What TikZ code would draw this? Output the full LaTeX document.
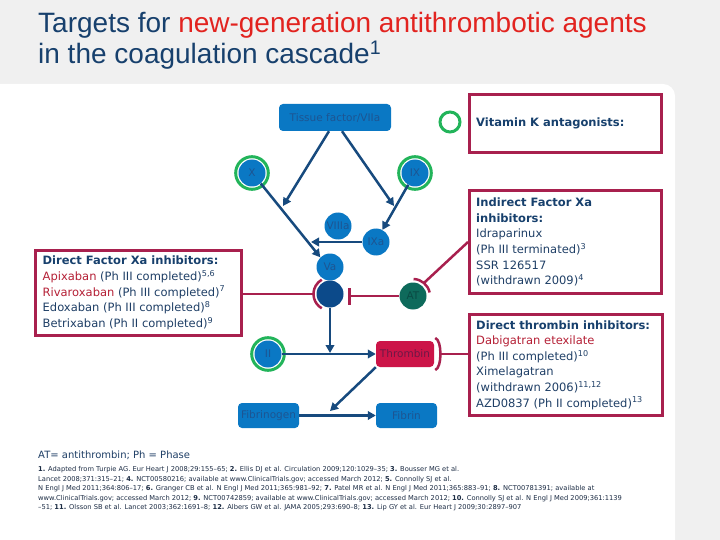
\documentclass[tikz,border=0pt]{standalone}
\usepackage{fontspec}
\setmainfont{DejaVu Sans}
\newfontfamily\titlefont{Liberation Sans}
\usetikzlibrary{arrows.meta,calc}
\definecolor{nblue}{HTML}{0A78C4}
\definecolor{ntext}{HTML}{1D5592}
\definecolor{navy}{HTML}{174A7E}
\definecolor{gring}{HTML}{22B45A}
\definecolor{crim}{HTML}{A8204E}
\definecolor{xadark}{HTML}{0C4A8A}
\definecolor{atteal}{HTML}{0E6A5B}
\definecolor{attext}{HTML}{0A4A44}
\definecolor{thr}{HTML}{CC1448}
\definecolor{thrtext}{HTML}{6E1846}
\definecolor{titleblue}{HTML}{17406D}
\definecolor{titlered}{HTML}{E2231F}
\definecolor{bodyblue}{HTML}{1F3F66}
\definecolor{headblue}{HTML}{17406D}
\definecolor{drugred}{HTML}{B52036}
\definecolor{bggray}{HTML}{F0F0F0}
\definecolor{refc}{HTML}{1C2C44}
\begin{document}
\begin{tikzpicture}[x=1pt,y=-1pt,
  fact/.style={circle, fill=nblue, minimum size=27pt, inner sep=0pt, text=ntext, font=\fontsize{10.5}{12}\selectfont},
  rbox/.style={rectangle, rounded corners=4pt, fill=nblue, text=ntext, inner sep=0pt, font=\fontsize{10.5}{12}\selectfont},
  ibox/.style={draw=crim, line width=3pt, rectangle, anchor=north west, inner sep=0pt},
  arr/.style={navy, line width=2.5pt, -{Triangle[length=8pt,width=8.5pt]}},
  inh/.style={crim, line width=2.5pt},
  grn/.style={gring, line width=3pt},
  btext/.style={anchor=west, align=left, inner sep=0pt, text=bodyblue, font=\fontsize{11.5}{15.6}\selectfont}
]
\useasboundingbox (0,0) rectangle (720,540);
\fill[bggray] (0,0) rectangle (720,540);
\fill[white, rounded corners=12pt] (-20,84) rectangle (675,570);

% title
\node[anchor=base west, inner sep=0pt, text=titleblue, font=\titlefont\fontsize{28}{32}\selectfont] (t1) at (38,33)
  {Targets for \textcolor{titlered}{new-generation antithrombotic agents}};
\node[anchor=base west, inner sep=0pt, text=titleblue, font=\titlefont\fontsize{28}{32}\selectfont] (t2) at (38,64)
  {in the coagulation cascade\textsuperscript{1}};

% cascade nodes
\node[rbox, minimum width=112pt, minimum height=27pt] (TF) at (335,117.5) {Tissue factor/VIIa};
\node[fact] (X) at (252,173) {X};
\node[fact] (IX) at (415,173) {IX};
\draw[grn] (X.center) circle[radius=16.3];
\draw[grn] (IX.center) circle[radius=16.3];
\node[fact] (VIIIa) at (338,226) {VIIIa};
\node[fact] (IXa) at (376,242) {IXa};
\node[fact] (Va) at (330,267) {Va};
\node[circle, fill=xadark, minimum size=27pt, inner sep=0pt] (Xa) at (330,294) {};
\node[circle, fill=atteal, minimum size=27pt, inner sep=0pt, text=attext, font=\fontsize{10.5}{12}\selectfont] (AT) at (413,296) {AT};
\node[fact] (II) at (268,354) {II};
\draw[grn] (II.center) circle[radius=16.3];
\node[rbox, fill=thr, text=thrtext, minimum width=58pt, minimum height=26pt] (Thr) at (405,354) {Thrombin};
\node[rbox, minimum width=61pt, minimum height=25pt] (Fbg) at (268.5,415.5) {Fibrinogen};
\node[rbox, minimum width=61pt, minimum height=25pt] (Fbn) at (406.5,415.5) {Fibrin};

% free ends
\coordinate (tfL) at (283,206);
\coordinate (tfR) at (394,206);
\coordinate (ixaL) at (311,242);
\coordinate (xaD) at (330,353);
\coordinate (thrD) at (330,411);

% arrows
\draw[arr] ([xshift=-6pt]TF.south) -- (tfL);
\draw[arr] ([xshift=7pt]TF.south) -- (tfR);
\draw[arr] (X.-50) -- (Va.135);
\draw[arr] (IX.-120) -- (IXa.62);
\draw[arr] (IXa.west) -- (ixaL);
\draw[arr] (Xa.south) -- (xaD);
\draw[arr] (II.east) -- (Thr.west);
\draw[arr] (Thr.south west) -- (thrD);
\draw[arr] (Fbg.east) -- (Fbn.west);

% inhibitor boxes
\node[ibox, minimum width=192pt, minimum height=58pt] (VKbox) at (468,93) {};
\node[btext, font=\bfseries\fontsize{11.5}{15.6}\selectfont, text=headblue] (VKtext) at ([xshift=8pt]VKbox.west) {Vitamin K antagonists:};
\node[circle, draw=gring, line width=3pt, minimum size=20pt, inner sep=0pt] (VKring) at (450,122) {};

\node[ibox, minimum width=206pt, minimum height=85pt] (FXaBox) at (34,249) {};
\node[btext] (FXaText) at ([xshift=8.5pt]FXaBox.west) {\textbf{\color{headblue}Direct Factor Xa inhibitors:}\\
\textcolor{drugred}{Apixaban} (Ph III completed)\textsuperscript{5,6}\\
\textcolor{drugred}{Rivaroxaban} (Ph III completed)\textsuperscript{7}\\
Edoxaban (Ph III completed)\textsuperscript{8}\\
Betrixaban (Ph II completed)\textsuperscript{9}};

\node[ibox, minimum width=192pt, minimum height=103pt] (IndBox) at (468,189) {};
\node[btext] (IndText) at ([xshift=8pt]IndBox.west) {\textbf{\color{headblue}Indirect Factor Xa}\\
\textbf{\color{headblue}inhibitors:}\\
Idraparinux\\
(Ph III terminated)\textsuperscript{3}\\
SSR 126517\\
(withdrawn 2009)\textsuperscript{4}};

\node[ibox, minimum width=193pt, minimum height=101pt] (DTBox) at (468,313) {};
\node[btext] (DTText) at ([xshift=8pt]DTBox.west) {\textbf{\color{headblue}Direct thrombin inhibitors:}\\
\textcolor{drugred}{Dabigatran etexilate}\\
(Ph III completed)\textsuperscript{10}\\
Ximelagatran\\
(withdrawn 2006)\textsuperscript{11,12}\\
AZD0837 (Ph II completed)\textsuperscript{13}};

% inhibition connectors
\coordinate (Xarc) at ($(Xa)+(180:16.5)$);
\draw[inh] ($(Xa)+(120:16.5)$) arc[start angle=120, end angle=240, radius=16.5];
\draw[inh] (FXaBox.east |- Xarc) -- (Xarc);

\coordinate (Tbar) at (348,296);
\draw[inh, -{Bar[width=17pt]}] (AT.west) -- (Tbar);

\coordinate (ATarc) at ($(AT)+(-50:17)$);
\draw[inh] ($(AT)+(-88:17)$) arc[start angle=-88, end angle=-12, radius=17];
\draw[inh] (ATarc) -- (IndBox.west);

\coordinate (ThrB) at ($(Thr.east)+(6.3,0)$);
\draw[inh] ($(Thr.east)+(1,-16)$) .. controls ($(Thr.east)+(8,-14)$) and ($(Thr.east)+(8,14)$) .. ($(Thr.east)+(1,16)$);
\draw[inh] (ThrB) -- (DTBox.west |- ThrB);

% footer
\node[anchor=base west, inner sep=0pt, text=bodyblue, font=\fontsize{10}{12}\selectfont] (abbr) at (38,458) {AT= antithrombin; Ph = Phase};
\node[anchor=north west, align=left, inner sep=0pt, text=refc, font=\fontsize{6.7}{9.5}\selectfont] (refs) at (38,466.5) {%
\textbf{1.} Adapted from Turpie AG. Eur Heart J 2008;29:155--65; \textbf{2.} Ellis DJ et al. Circulation 2009;120:1029--35; \textbf{3.} Bousser MG et al.\\
Lancet 2008;371:315--21; \textbf{4.} NCT00580216; available at www.ClinicalTrials.gov; accessed March 2012; \textbf{5.} Connolly SJ et al.\\
N Engl J Med 2011;364:806--17; \textbf{6.} Granger CB et al. N Engl J Med 2011;365:981--92; \textbf{7.} Patel MR et al. N Engl J Med 2011;365:883--91; \textbf{8.} NCT00781391; available at\\
www.ClinicalTrials.gov; accessed March 2012; \textbf{9.} NCT00742859; available at www.ClinicalTrials.gov; accessed March 2012; \textbf{10.} Connolly SJ et al. N Engl J Med 2009;361:1139\\
--51; \textbf{11.} Olsson SB et al. Lancet 2003;362:1691--8; \textbf{12.} Albers GW et al. JAMA 2005;293:690--8; \textbf{13.} Lip GY et al. Eur Heart J 2009;30:2897--907};
\end{tikzpicture}
\end{document}
